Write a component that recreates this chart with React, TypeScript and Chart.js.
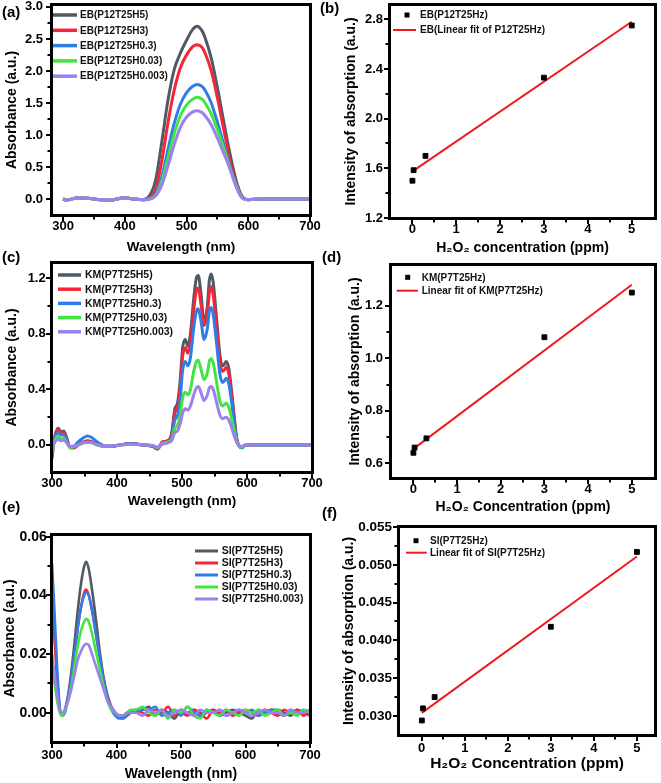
import React, { useEffect, useRef } from 'react';
import { Chart, registerables } from 'chart.js';

Chart.register(...registerables);

const FONT = '"Liberation Sans", Arial, Helvetica, sans-serif';
const COLORS = ['#4f5a64', '#f4263a', '#2f7de6', '#42e442', '#9c80f0'];
const FIT_COLOR = '#f01a1a';

// ---------- Panel (a): EB spectra ----------
const WL_A = [300, 305, 310, 325, 340, 360, 375, 400, 415, 430, 440, 450, 460, 470, 480, 490, 500, 510, 517, 525, 530, 540, 550, 560, 570, 580, 590, 600, 620, 650, 700];
const EB_LABELS = ['EB(P12T25H5)', 'EB(P12T25H3)', 'EB(P12T25H0.3)', 'EB(P12T25H0.03)', 'EB(P12T25H0.003)'];
const EB_H5 = [0.00, -0.02, -0.01, 0.02, 0.01, -0.01, -0.02, 0.02, 0.00, -0.01, 0.05, 0.30, 0.90, 1.55, 2.02, 2.28, 2.48, 2.65, 2.70, 2.63, 2.52, 2.20, 1.74, 1.22, 0.72, 0.30, 0.04, -0.01, 0.00, 0.00, 0.00];
const EB_H3 = [0.00, -0.02, -0.01, 0.02, 0.01, -0.01, -0.02, 0.02, 0.00, -0.01, 0.01, 0.15, 0.60, 1.20, 1.70, 2.05, 2.25, 2.38, 2.41, 2.37, 2.28, 2.00, 1.58, 1.10, 0.62, 0.24, 0.02, -0.01, 0.00, 0.00, 0.00];
const EB_H03 = [0.00, -0.02, -0.01, 0.02, 0.01, -0.01, -0.02, 0.02, 0.00, -0.01, 0.00, 0.08, 0.35, 0.78, 1.18, 1.48, 1.66, 1.76, 1.79, 1.76, 1.70, 1.50, 1.20, 0.86, 0.52, 0.22, 0.02, -0.01, 0.00, 0.00, 0.00];
const EB_H003 = [0.00, -0.02, -0.01, 0.02, 0.01, -0.01, -0.02, 0.02, 0.00, -0.01, 0.00, 0.06, 0.28, 0.65, 1.02, 1.30, 1.47, 1.56, 1.59, 1.56, 1.50, 1.33, 1.08, 0.80, 0.50, 0.22, 0.02, -0.01, 0.00, 0.00, 0.00];
const EB_H0003 = [0.00, -0.02, -0.01, 0.02, 0.01, -0.01, -0.02, 0.02, 0.00, -0.01, 0.00, 0.05, 0.22, 0.52, 0.85, 1.12, 1.28, 1.36, 1.38, 1.35, 1.30, 1.16, 0.95, 0.72, 0.48, 0.20, 0.02, -0.01, 0.00, 0.00, 0.00];

// ---------- Panel (c): KM spectra ----------
const WL_C = [300, 303, 306, 310, 314, 318, 322, 328, 334, 340, 348, 355, 362, 370, 380, 390, 405, 420, 440, 455, 462, 470, 478, 484, 489, 493, 497, 501, 505, 509, 513, 518, 522, 525, 529, 534, 539, 542, 545, 548, 553, 558, 562, 565, 568, 572, 576, 580, 584, 588, 592, 598, 620, 660, 700];
const KM_LABELS = ['KM(P7T25H5)', 'KM(P7T25H3)', 'KM(P7T25H0.3)', 'KM(P7T25H0.03)', 'KM(P7T25H0.003)'];
const KM_H5 = [-0.10, 0.02, 0.09, 0.12, 0.09, 0.10, 0.06, -0.02, -0.02, 0.00, 0.02, 0.03, 0.02, 0.00, -0.01, -0.01, 0.00, 0.01, 0.00, -0.01, -0.03, 0.02, 0.03, 0.08, 0.26, 0.30, 0.45, 0.70, 0.76, 0.71, 0.80, 1.05, 1.20, 1.22, 1.10, 0.89, 1.00, 1.18, 1.23, 1.17, 0.92, 0.66, 0.57, 0.58, 0.60, 0.55, 0.40, 0.22, 0.05, -0.01, -0.02, 0.00, 0.00, 0.00, 0.00];
const KM_H3 = [-0.08, 0.03, 0.09, 0.11, 0.08, 0.09, 0.05, -0.02, -0.02, 0.00, 0.02, 0.025, 0.02, 0.00, -0.01, -0.01, 0.00, 0.01, 0.00, -0.01, -0.03, 0.02, 0.03, 0.07, 0.23, 0.27, 0.40, 0.64, 0.70, 0.66, 0.74, 0.97, 1.11, 1.13, 1.02, 0.86, 0.95, 1.09, 1.14, 1.08, 0.86, 0.61, 0.53, 0.54, 0.56, 0.51, 0.37, 0.20, 0.05, -0.01, -0.02, 0.00, 0.00, 0.00, 0.00];
const KM_H03 = [-0.06, 0.02, 0.07, 0.085, 0.07, 0.075, 0.04, -0.02, -0.01, 0.02, 0.05, 0.065, 0.05, 0.02, -0.005, -0.01, 0.00, 0.01, 0.00, -0.005, -0.02, 0.01, 0.02, 0.05, 0.18, 0.21, 0.32, 0.54, 0.60, 0.57, 0.63, 0.84, 0.96, 0.98, 0.90, 0.76, 0.84, 0.96, 0.99, 0.94, 0.74, 0.52, 0.45, 0.46, 0.48, 0.44, 0.32, 0.17, 0.04, -0.01, -0.02, 0.00, 0.00, 0.00, 0.00];
const KM_H003 = [-0.05, 0.01, 0.05, 0.06, 0.04, 0.05, 0.02, -0.02, -0.01, 0.00, 0.015, 0.02, 0.015, 0.00, -0.01, -0.01, 0.00, 0.005, 0.00, -0.005, -0.02, 0.01, 0.02, 0.04, 0.12, 0.14, 0.21, 0.34, 0.38, 0.36, 0.40, 0.53, 0.60, 0.61, 0.55, 0.47, 0.52, 0.60, 0.62, 0.59, 0.46, 0.32, 0.28, 0.29, 0.30, 0.27, 0.20, 0.11, 0.03, -0.01, -0.015, 0.00, 0.00, 0.00, 0.00];
const KM_H0003 = [-0.03, 0.01, 0.03, 0.04, 0.03, 0.035, 0.02, -0.01, -0.01, 0.00, 0.015, 0.02, 0.015, 0.00, -0.005, -0.01, 0.00, 0.005, 0.00, -0.005, -0.015, 0.005, 0.015, 0.03, 0.09, 0.10, 0.15, 0.23, 0.26, 0.25, 0.28, 0.36, 0.41, 0.42, 0.38, 0.32, 0.36, 0.41, 0.42, 0.40, 0.31, 0.22, 0.19, 0.195, 0.20, 0.18, 0.13, 0.07, 0.02, -0.005, -0.01, 0.00, 0.00, 0.00, 0.00];

// ---------- Panel (e): SI spectra ----------
const WL_E = [300, 304, 308, 312, 316, 320, 325, 330, 335, 340, 345, 350, 353, 357, 362, 368, 374, 380, 386, 392, 398, 404, 410, 416, 422, 430, 440, 450, 460, 470, 480, 490, 500, 510, 520, 530, 540, 550, 560, 570, 580, 590, 600, 610, 620, 630, 640, 650, 660, 670, 680, 690, 700];
const SI_LABELS = ['SI(P7T25H5)', 'SI(P7T25H3)', 'SI(P7T25H0.3)', 'SI(P7T25H0.03)', 'SI(P7T25H0.003)'];
const SI_H5 = [0.040, 0.028, 0.012, 0.001, -0.001, 0.001, 0.006, 0.014, 0.024, 0.035, 0.044, 0.050, 0.0515, 0.049, 0.042, 0.032, 0.021, 0.012, 0.006, 0.002, 0.000, -0.001, -0.001, -0.001, 0.000, 0.000, 0.001, 0.002, -0.001, 0.001, 0.000, -0.002, 0.001, 0.000, 0.001, -0.001, 0.000, 0.001, -0.001, 0.000, 0.001, 0.000, -0.001, -0.002, 0.001, 0.000, 0.001, 0.001, 0.000, -0.001, 0.001, 0.000, -0.001];
const SI_H3 = [0.036, 0.025, 0.011, 0.001, -0.001, 0.001, 0.005, 0.012, 0.020, 0.029, 0.036, 0.041, 0.042, 0.040, 0.035, 0.027, 0.019, 0.011, 0.005, 0.002, 0.000, -0.001, -0.002, -0.001, 0.000, 0.001, 0.000, -0.001, 0.001, 0.000, 0.002, -0.001, 0.000, -0.001, 0.001, 0.000, -0.002, 0.001, 0.000, 0.001, -0.001, 0.000, 0.001, 0.000, -0.001, 0.001, 0.000, -0.001, 0.001, 0.000, 0.001, -0.001, 0.001];
const SI_H03 = [0.051, 0.034, 0.015, 0.002, -0.001, 0.000, 0.005, 0.012, 0.020, 0.029, 0.036, 0.040, 0.041, 0.040, 0.035, 0.027, 0.019, 0.011, 0.005, 0.001, -0.001, -0.002, -0.002, -0.001, 0.000, 0.000, 0.001, 0.001, 0.002, -0.001, 0.000, 0.001, -0.001, 0.002, 0.000, -0.001, 0.001, 0.000, 0.001, -0.001, 0.000, 0.001, 0.000, 0.001, -0.001, 0.000, 0.001, 0.000, -0.001, 0.001, 0.000, 0.001, 0.000];
const SI_H003 = [0.015, 0.010, 0.004, 0.000, -0.001, 0.001, 0.004, 0.009, 0.016, 0.023, 0.028, 0.031, 0.032, 0.031, 0.027, 0.021, 0.015, 0.009, 0.004, 0.001, 0.000, -0.001, -0.001, 0.000, 0.001, 0.001, 0.002, 0.000, -0.001, 0.001, -0.002, 0.001, 0.000, 0.002, -0.001, -0.002, 0.001, 0.000, -0.001, 0.001, 0.000, -0.001, 0.001, 0.000, 0.001, -0.001, 0.000, 0.001, -0.001, 0.000, -0.001, 0.001, 0.000];
const SI_H0003 = [0.020, 0.013, 0.006, 0.001, 0.000, 0.001, 0.004, 0.008, 0.013, 0.018, 0.021, 0.023, 0.0235, 0.023, 0.020, 0.016, 0.012, 0.008, 0.004, 0.002, 0.000, -0.001, -0.001, 0.000, 0.000, 0.000, -0.001, 0.001, 0.000, 0.001, -0.001, 0.000, 0.001, 0.000, -0.001, 0.001, 0.000, 0.000, 0.001, -0.001, 0.000, 0.001, 0.000, -0.001, 0.000, 0.001, 0.000, 0.000, -0.001, 0.001, 0.000, 0.000, 0.001];

// ---------- Panels (b), (d), (f): intensity vs concentration ----------
const CONC = [0.003, 0.03, 0.3, 3, 5];
const FIT_X = [0.003, 5];
const EB_INT = [1.50, 1.585, 1.70, 2.33, 2.75];
const EB_FIT = [1.575, 2.78];
const KM_INT = [0.64, 0.66, 0.695, 1.08, 1.25];
const KM_FIT = [0.655, 1.28];
const SI_INT = [0.0294, 0.0310, 0.0325, 0.0418, 0.0517];
const SI_FIT = [0.0304, 0.0511];

// ---------- Tick values ----------
const X_TICKS_WL = [300, 400, 500, 600, 700];
const X_TICKS_CONC = [0, 1, 2, 3, 4, 5];
const Y_TICKS_A = [0, 0.5, 1, 1.5, 2, 2.5, 3];
const Y_TICKS_B = [1.2, 1.6, 2.0, 2.4, 2.8];
const Y_TICKS_C = [0, 0.4, 0.8, 1.2];
const Y_TICKS_D = [0.6, 0.8, 1.0, 1.2];
const Y_TICKS_E = [0, 0.02, 0.04, 0.06];
const Y_TICKS_F = [0.030, 0.035, 0.040, 0.045, 0.050, 0.055];

const PANEL_LABELS = [
  { t: '(a)', x: 2, y: 4 },
  { t: '(b)', x: 320, y: 0 },
  { t: '(c)', x: 2, y: 249 },
  { t: '(d)', x: 322, y: 249 },
  { t: '(e)', x: 2, y: 499 },
  { t: '(f)', x: 322, y: 505 },
];

const pts = (xs: number[], ys: number[]) => xs.map((x, i) => ({ x, y: ys[i] }));

// Draws the closed plot frame, outward tick marks (major + mid minor) and the in-plot legend.
const boxLegendPlugin = {
  id: 'boxLegend',
  afterDraw(chart: any, _args: any, opts: any) {
    const { ctx, chartArea: a, scales } = chart;
    ctx.save();
    ctx.fillStyle = '#000000';
    const L = Math.round(a.left), T = Math.round(a.top), R = Math.round(a.right), B = Math.round(a.bottom);
    ctx.fillRect(L - 2, T - 2, R - L + 4, 3);
    ctx.fillRect(L - 2, B - 1, R - L + 4, 3);
    ctx.fillRect(L - 2, T - 2, 3, B - T + 4);
    ctx.fillRect(R - 1, T - 2, 3, B - T + 4);

    const xt = scales.x.ticks.map((t: any) => t.value);
    const yt = scales.y.ticks.map((t: any) => t.value);
    xt.forEach((v: number, i: number) => {
      const px = Math.round(scales.x.getPixelForValue(v));
      ctx.fillRect(px - 1, B + 2, 2, 4);
      if (i > 0) {
        const pm = Math.round(scales.x.getPixelForValue((v + xt[i - 1]) / 2));
        ctx.fillRect(pm - 1, B + 2, 2, 2.5);
      }
    });
    yt.forEach((v: number, i: number) => {
      const py = Math.round(scales.y.getPixelForValue(v));
      ctx.fillRect(L - 6, py - 1, 4, 2);
      if (i > 0) {
        const pm = Math.round(scales.y.getPixelForValue((v + yt[i - 1]) / 2));
        ctx.fillRect(L - 4.5, pm - 1, 2.5, 2);
      }
    });

    ctx.font = `bold ${opts.fontSize}px ${FONT}`;
    ctx.textBaseline = 'middle';
    ctx.textAlign = 'left';
    chart.data.datasets.forEach((d: any, i: number) => {
      const y = a.top + opts.y0 + i * opts.dy;
      if (d.showLine === false) {
        const s = opts.marker;
        ctx.fillStyle = '#000000';
        ctx.fillRect(a.left + opts.markerX - s / 2, y - s / 2, s, s);
      } else {
        ctx.fillStyle = d.borderColor;
        ctx.fillRect(a.left + opts.x0, y - opts.lineWidth / 2, opts.lineLen, opts.lineWidth);
      }
      ctx.fillStyle = '#111111';
      ctx.fillText(d.label, a.left + opts.textX, y + 0.5);
    });
    ctx.restore();
  },
};

function axis(o: any) {
  const isX = o.pos === 'x';
  return {
    type: 'linear',
    position: isX ? 'bottom' : 'left',
    min: o.min,
    max: o.max,
    afterBuildTicks: (s: any) => {
      s.ticks = o.ticks.map((v: number) => ({ value: v }));
    },
    afterFit: (s: any) => {
      if (isX) s.height = o.size;
      else s.width = o.size;
      s.paddingLeft = 0;
      s.paddingRight = 0;
      s.paddingTop = 0;
      s.paddingBottom = 0;
    },
    ticks: {
      autoSkip: false,
      maxRotation: 0,
      minRotation: 0,
      padding: o.tickPad + 4,
      color: '#000000',
      font: { family: FONT, size: o.tickSize, weight: 'bold' },
      callback: (v: any) => Number(v).toFixed(o.dec),
    },
    grid: { display: false, drawTicks: false },
    border: { display: false },
    title: {
      display: true,
      text: o.title,
      color: '#000000',
      font: { family: FONT, size: o.titleSize, weight: 'bold' },
      padding: { top: o.titlePad, bottom: o.titlePad },
    },
  };
}

function spectra(xs: number[], series: number[][], labels: string[], width: number) {
  return series.map((ys, i) => ({
    label: labels[i],
    data: pts(xs, ys),
    borderColor: COLORS[i],
    backgroundColor: COLORS[i],
    borderWidth: width,
    pointRadius: 0,
    cubicInterpolationMode: 'monotone',
    order: series.length - i,
  }));
}

function linear(xs: number[], ys: number[], label: string, fitYs: number[], fitLabel: string) {
  return [
    {
      label,
      data: pts(xs, ys),
      showLine: false,
      pointStyle: 'rect',
      pointRadius: 3.4,
      pointBackgroundColor: '#000000',
      pointBorderColor: '#000000',
      borderColor: '#000000',
      backgroundColor: '#000000',
      order: 0,
    },
    {
      label: fitLabel,
      data: pts(FIT_X, fitYs),
      showLine: true,
      borderColor: FIT_COLOR,
      backgroundColor: FIT_COLOR,
      borderWidth: 2,
      pointRadius: 0,
      order: 1,
    },
  ];
}

function makeConfig(p: any) {
  return {
    type: 'line',
    data: { datasets: p.datasets },
    options: {
      responsive: false,
      animation: false,
      devicePixelRatio: 1,
      layout: { padding: { left: 0, top: p.padTop, right: p.padRight, bottom: 0 } },
      plugins: {
        legend: { display: false },
        tooltip: { enabled: false },
        boxLegend: p.legend,
      },
      scales: { x: axis({ pos: 'x', ...p.x }), y: axis({ pos: 'y', ...p.y }) },
    },
    plugins: [boxLegendPlugin],
  };
}

const WL_TITLE = 'Wavelength (nm)';
const ABS_TITLE = 'Absorbance (a.u.)';
const INT_TITLE = 'Intensity of absorption (a.u.)';

const PANELS = [
  {
    id: 'a', left: 0, top: 0, w: 330, h: 262,
    cfg: () => makeConfig({
      datasets: spectra(WL_A, [EB_H5, EB_H3, EB_H03, EB_H003, EB_H0003], EB_LABELS, 3),
      padTop: 5, padRight: 20,
      x: { min: 282, max: 700, ticks: X_TICKS_WL, dec: 0, size: 47, tickPad: 0, tickSize: 13, title: WL_TITLE, titleSize: 13.5, titlePad: 7 },
      y: { min: -0.25, max: 3.03, ticks: Y_TICKS_A, dec: 1, size: 52, tickPad: 5, tickSize: 13, title: ABS_TITLE, titleSize: 14, titlePad: 4 },
      legend: { x0: 1, lineLen: 24, textX: 28, y0: 10, dy: 15.3, fontSize: 10, lineWidth: 3.5, marker: 5, markerX: 12 },
    }),
  },
  {
    id: 'b', left: 330, top: 0, w: 331, h: 262,
    cfg: () => makeConfig({
      datasets: linear(CONC, EB_INT, 'EB(P12T25Hz)', EB_FIT, 'EB(Linear fit of P12T25Hz)'),
      padTop: 5, padRight: 6,
      x: { min: -0.508, max: 5.53, ticks: X_TICKS_CONC, dec: 0, size: 44, tickPad: 0, tickSize: 13, title: 'H₂O₂ concentration (ppm)', titleSize: 14, titlePad: 5.6 },
      y: { min: 1.2, max: 2.915, ticks: Y_TICKS_B, dec: 1, size: 60, tickPad: 3, tickSize: 13, title: INT_TITLE, titleSize: 14, titlePad: 12.6 },
      legend: { x0: 3, lineLen: 23, textX: 30, y0: 10, dy: 15, fontSize: 10, lineWidth: 2, marker: 5, markerX: 17 },
    }),
  },
  {
    id: 'c', left: 0, top: 258, w: 330, h: 264,
    cfg: () => makeConfig({
      datasets: spectra(WL_C, [KM_H5, KM_H3, KM_H03, KM_H003, KM_H0003], KM_LABELS, 3),
      padTop: 5, padRight: 18,
      x: { min: 300, max: 700, ticks: X_TICKS_WL, dec: 0, size: 50, tickPad: 0, tickSize: 13, title: WL_TITLE, titleSize: 13.5, titlePad: 12.4 },
      y: { min: -0.195, max: 1.31, ticks: Y_TICKS_C, dec: 1, size: 52, tickPad: 2.3, tickSize: 13, title: ABS_TITLE, titleSize: 14, titlePad: 3.6 },
      legend: { x0: 6, lineLen: 23, textX: 33, y0: 12, dy: 14.2, fontSize: 10.5, lineWidth: 3.5, marker: 5, markerX: 17 },
    }),
  },
  {
    id: 'd', left: 330, top: 260, w: 331, h: 262,
    cfg: () => makeConfig({
      datasets: linear(CONC, KM_INT, 'KM(P7T25Hz)', KM_FIT, 'Linear fit of KM(P7T25Hz)'),
      padTop: 5, padRight: 6,
      x: { min: -0.51, max: 5.53, ticks: X_TICKS_CONC, dec: 0, size: 44, tickPad: 0, tickSize: 13, title: 'H₂O₂ Concentration (ppm)', titleSize: 14, titlePad: 6.9 },
      y: { min: 0.544, max: 1.355, ticks: Y_TICKS_D, dec: 1, size: 61, tickPad: 4, tickSize: 13, title: INT_TITLE, titleSize: 14, titlePad: 16.6 },
      legend: { x0: 5.7, lineLen: 21.3, textX: 30.7, y0: 12.3, dy: 13.4, fontSize: 10, lineWidth: 2, marker: 5, markerX: 16.7 },
    }),
  },
  {
    id: 'e', left: 0, top: 528, w: 330, h: 255,
    cfg: () => makeConfig({
      datasets: spectra(WL_E, [SI_H5, SI_H3, SI_H03, SI_H003, SI_H0003], SI_LABELS, 2.6),
      padTop: 7, padRight: 20,
      x: { min: 300, max: 700, ticks: X_TICKS_WL, dec: 0, size: 41, tickPad: 1.2, tickSize: 13, title: WL_TITLE, titleSize: 14, titlePad: 0.6 },
      y: { min: -0.01, max: 0.0606, ticks: Y_TICKS_E, dec: 2, size: 52, tickPad: 1.3, tickSize: 14, title: ABS_TITLE, titleSize: 14, titlePad: 1.6 },
      legend: { x0: 143, lineLen: 23, textX: 169.7, y0: 16, dy: 12, fontSize: 10.5, lineWidth: 3, marker: 5, markerX: 154 },
    }),
  },
  {
    id: 'f', left: 330, top: 520, w: 331, h: 263,
    cfg: () => makeConfig({
      datasets: linear(CONC, SI_INT, 'SI(P7T25Hz)', SI_FIT, 'Linear fit of SI(P7T25Hz)'),
      padTop: 7, padRight: 6,
      x: { min: -0.528, max: 5.42, ticks: X_TICKS_CONC, dec: 0, size: 48, tickPad: 1.2, tickSize: 13, title: 'H₂O₂ Concentration (ppm)', titleSize: 15.5, titlePad: 10.2 },
      y: { min: 0.02748, max: 0.0550, ticks: Y_TICKS_F, dec: 3, size: 69, tickPad: 3, tickSize: 13.5, title: INT_TITLE, titleSize: 14, titlePad: 10.6 },
      legend: { x0: 7, lineLen: 20.7, textX: 31, y0: 13.7, dy: 12, fontSize: 10, lineWidth: 2, marker: 5, markerX: 17 },
    }),
  },
];

function Panel({ spec }: { spec: any }) {
  const ref = useRef<HTMLCanvasElement>(null);
  useEffect(() => {
    const chart = new Chart(ref.current as HTMLCanvasElement, spec.cfg() as any);
    return () => chart.destroy();
  }, []);
  return (
    <canvas
      ref={ref}
      width={spec.w}
      height={spec.h}
      style={{ position: 'absolute', left: spec.left, top: spec.top, width: spec.w, height: spec.h }}
    />
  );
}

export default function App() {
  return (
    <div
      style={{
        position: 'fixed', left: 0, top: 0, width: 661, height: 783,
        background: '#fff', overflow: 'hidden', fontFamily: FONT,
      }}
    >
      {PANELS.map((p) => (
        <Panel key={p.id} spec={p} />
      ))}
      {PANEL_LABELS.map((l) => (
        <div
          key={l.t}
          style={{
            position: 'absolute', left: l.x, top: l.y, fontSize: 15,
            fontWeight: 'bold', lineHeight: '16px', color: '#000',
          }}
        >
          {l.t}
        </div>
      ))}
    </div>
  );
}
